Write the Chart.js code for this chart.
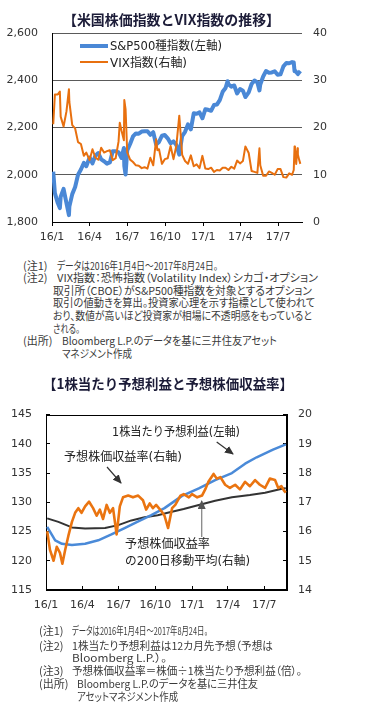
<!DOCTYPE html>
<html><head><meta charset="utf-8">
<script src="https://cdn.jsdelivr.net/npm/chart.js@4.4.1/dist/chart.umd.min.js"></script>
<style>
html,body{margin:0;padding:0;background:#fff;}
body{width:381px;height:716px;position:relative;overflow:hidden;font-family:"Noto Sans CJK JP",sans-serif;color:#333;}
.t{position:absolute;white-space:nowrap;left:0;top:0;}
.title{font-weight:bold;font-size:14px;line-height:16px;color:#1c1c38;}
.note{font-size:11px;line-height:13px;color:#3a3a3a;font-feature-settings:"palt";}
.lg{font-size:12px;line-height:14px;color:#222;font-family:"DejaVu Sans","Noto Sans CJK JP",sans-serif;}
.ann{font-size:12px;line-height:14px;color:#222;font-family:"DejaVu Sans","Noto Sans CJK JP",sans-serif;}
canvas{position:absolute;left:0;}
.sw{position:absolute;}
</style></head><body>
<canvas id="c1" width="381" height="250" style="top:0;width:381px;height:250px"></canvas>
<canvas id="c2" width="381" height="230" style="top:390px;width:381px;height:230px"></canvas>

<div class="t title" data-x0="63" data-x1="280" data-yc="19">【米国株価指数とVIX指数の推移】</div>
<div class="sw" style="left:80px;top:44px;width:28px;height:3.5px;background:#4a88d6"></div>
<div class="t lg" data-x0="110" data-x1="222" data-yc="46">S&amp;P500種指数(左軸)</div>
<div class="sw" style="left:80px;top:61.3px;width:28px;height:2px;background:#e8700f"></div>
<div class="t lg" data-x0="110" data-x1="187" data-yc="62.5">VIX指数(右軸)</div>

<div class="t note" data-x0="23" data-yc="265">(注1)</div>
<div class="t note" data-x0="57" data-x1="218" data-yc="265">データは2016年1月4日～2017年8月24日。</div>
<div class="t note" data-x0="23" data-yc="277">(注2)</div>
<div class="t note" data-x0="57" data-x1="318" data-yc="277">VIX指数：恐怖指数（Volatility Index）シカゴ・オプション</div>
<div class="t note" data-x0="53" data-x1="312" data-yc="290">取引所（CBOE）がS&amp;P500種指数を対象とするオプション</div>
<div class="t note" data-x0="53" data-x1="315" data-yc="302.7">取引の値動きを算出。投資家心理を示す指標として使われて</div>
<div class="t note" data-x0="53" data-x1="312" data-yc="315">おり、数値が高いほど投資家が相場に不透明感をもっていると</div>
<div class="t note" data-x0="53" data-x1="80" data-yc="328.3">される。</div>
<div class="t note" data-x0="23" data-yc="340.7">(出所)</div>
<div class="t note" data-x0="62" data-x1="277" data-yc="340.7">Bloomberg L.P.のデータを基に三井住友アセット</div>
<div class="t note" data-x0="62" data-x1="132" data-yc="353.3">マネジメント作成</div>

<div class="t title" data-x0="43" data-x1="293" data-yc="383">【1株当たり予想利益と予想株価収益率】</div>
<div class="t ann" data-x0="112" data-x1="240" data-yc="432">1株当たり予想利益(左軸)</div>
<div class="t ann" data-x0="64" data-x1="182" data-yc="457">予想株価収益率(右軸)</div>
<div class="t ann" data-x0="125" data-x1="210" data-yc="543.5">予想株価収益率</div>
<div class="t ann" data-x0="125" data-x1="250" data-yc="560.5">の200日移動平均(右軸)</div>

<svg style="position:absolute;left:0;top:0;pointer-events:none" width="381" height="716">
<defs>
<marker id="ah" markerUnits="userSpaceOnUse" markerWidth="9" markerHeight="8" refX="8" refY="4" orient="auto"><path d="M0,0 L9,4 L0,8z" fill="#333"/></marker>
<marker id="ah2" markerUnits="userSpaceOnUse" markerWidth="9" markerHeight="8" refX="8" refY="4" orient="auto"><path d="M0,0 L9,4 L0,8z" fill="#555"/></marker>
</defs>
<line x1="216.7" y1="442" x2="233" y2="454" stroke="#333" stroke-width="1.2" marker-end="url(#ah)"/>
<line x1="107" y1="467" x2="121" y2="483" stroke="#333" stroke-width="1.2" marker-end="url(#ah)"/>
<line x1="201.7" y1="537" x2="201.7" y2="501" stroke="#888" stroke-width="1.3" marker-end="url(#ah2)"/>
</svg>

<div class="t note" data-x0="39" data-yc="630">(注1)</div>
<div class="t note" data-x0="72" data-x1="208" data-yc="630">データは2016年1月4日～2017年8月24日。</div>
<div class="t note" data-x0="39" data-yc="645">(注2)</div>
<div class="t note" data-x0="72" data-x1="273" data-yc="645">1株当たり予想利益は12カ月先予想（予想は</div>
<div class="t note" data-x0="72" data-x1="167" data-yc="657.7">Bloomberg L.P.）。</div>
<div class="t note" data-x0="39" data-yc="670">(注3)</div>
<div class="t note" data-x0="72" data-x1="302" data-yc="670">予想株価収益率＝株価÷1株当たり予想利益（倍）。</div>
<div class="t note" data-x0="39" data-yc="683.3">(出所)</div>
<div class="t note" data-x0="77" data-x1="258" data-yc="683.3">Bloomberg L.P.のデータを基に三井住友</div>
<div class="t note" data-x0="77" data-x1="178" data-yc="696.7">アセットマネジメント作成</div>

<script>
// ---------- shared x axis ----------
const xTickDates = ['2016-01-01','2016-04-01','2016-07-01','2016-10-01','2017-01-01','2017-04-01','2017-07-01'];
const xTickLabels = ['16/1','16/4','16/7','16/10','17/1','17/4','17/7'];

// ---------- chart 1: S&P500 (left) and VIX (right) ----------
const spDates = ['2016-01-04','2016-01-08','2016-01-15','2016-01-20','2016-01-22','2016-01-29','2016-02-05','2016-02-11','2016-02-12','2016-02-19','2016-02-26','2016-03-04','2016-03-11','2016-03-18','2016-03-24','2016-04-01','2016-04-08','2016-04-15','2016-04-22','2016-04-29','2016-05-06','2016-05-13','2016-05-20','2016-05-27','2016-06-03','2016-06-10','2016-06-17','2016-06-23','2016-06-24','2016-06-27','2016-07-01','2016-07-08','2016-07-15','2016-07-22','2016-07-29','2016-08-05','2016-08-12','2016-08-19','2016-08-26','2016-09-02','2016-09-09','2016-09-16','2016-09-23','2016-09-30','2016-10-07','2016-10-14','2016-10-21','2016-10-28','2016-11-04','2016-11-11','2016-11-18','2016-11-25','2016-12-02','2016-12-09','2016-12-16','2016-12-23','2016-12-30','2017-01-06','2017-01-13','2017-01-20','2017-01-27','2017-02-03','2017-02-10','2017-02-17','2017-02-24','2017-03-01','2017-03-03','2017-03-10','2017-03-17','2017-03-24','2017-03-31','2017-04-07','2017-04-13','2017-04-21','2017-04-28','2017-05-05','2017-05-12','2017-05-17','2017-05-19','2017-05-26','2017-06-02','2017-06-09','2017-06-16','2017-06-23','2017-06-30','2017-07-07','2017-07-14','2017-07-21','2017-07-28','2017-08-04','2017-08-08','2017-08-10','2017-08-11','2017-08-18','2017-08-24'];
const spValues = [2013,1922,1880,1859,1907,1940,1880,1829,1865,1918,1948,2000,2022,2050,2036,2073,2048,2081,2092,2065,2057,2047,2052,2099,2099,2096,2071,2113,2037,2001,2103,2130,2162,2175,2174,2183,2184,2184,2169,2180,2128,2139,2165,2168,2154,2133,2141,2126,2085,2164,2182,2213,2192,2260,2258,2264,2239,2277,2275,2271,2295,2297,2316,2351,2367,2396,2383,2373,2378,2344,2363,2356,2329,2349,2384,2399,2391,2357,2382,2416,2439,2432,2433,2438,2423,2425,2459,2473,2472,2477,2475,2438,2441,2426,2439];

const vixDates = ['2016-01-04','2016-01-08','2016-01-15','2016-01-20','2016-01-22','2016-01-29','2016-02-05','2016-02-11','2016-02-12','2016-02-19','2016-02-26','2016-03-04','2016-03-11','2016-03-18','2016-03-24','2016-04-01','2016-04-08','2016-04-15','2016-04-22','2016-04-29','2016-05-06','2016-05-13','2016-05-20','2016-05-27','2016-06-03','2016-06-10','2016-06-13','2016-06-17','2016-06-23','2016-06-24','2016-06-27','2016-07-01','2016-07-08','2016-07-15','2016-07-22','2016-07-29','2016-08-05','2016-08-12','2016-08-19','2016-08-26','2016-09-02','2016-09-09','2016-09-12','2016-09-16','2016-09-23','2016-09-30','2016-10-07','2016-10-14','2016-10-21','2016-10-28','2016-11-04','2016-11-11','2016-11-18','2016-11-25','2016-12-02','2016-12-09','2016-12-16','2016-12-23','2016-12-30','2017-01-06','2017-01-13','2017-01-20','2017-01-27','2017-02-03','2017-02-10','2017-02-17','2017-02-24','2017-03-03','2017-03-10','2017-03-17','2017-03-24','2017-03-31','2017-04-07','2017-04-13','2017-04-21','2017-04-28','2017-05-05','2017-05-12','2017-05-17','2017-05-19','2017-05-26','2017-06-02','2017-06-09','2017-06-16','2017-06-23','2017-06-30','2017-07-07','2017-07-14','2017-07-21','2017-07-28','2017-08-04','2017-08-08','2017-08-10','2017-08-11','2017-08-14','2017-08-17','2017-08-18','2017-08-21','2017-08-24'];
const vixValues = [20.7,27.0,27.0,27.6,22.3,20.2,23.4,28.1,25.4,20.5,19.8,16.9,16.5,14.0,14.7,13.1,15.4,13.6,13.2,15.7,14.7,15.0,15.2,13.1,13.5,17.0,21.0,19.4,17.3,25.8,23.9,14.8,13.2,12.7,12.0,11.9,11.4,11.6,11.3,13.6,12.0,17.5,15.2,15.4,12.3,13.3,13.5,16.1,13.3,16.2,22.5,14.2,12.9,12.3,14.1,11.8,12.2,11.4,14.0,11.3,11.2,11.5,10.6,11.0,10.9,11.5,11.5,11.0,11.7,11.3,13.0,12.4,12.9,16.0,14.6,10.8,10.6,10.4,15.6,12.0,9.8,9.8,10.7,10.4,10.0,11.2,11.2,9.5,9.4,10.3,10.0,11.0,16.0,15.5,12.3,15.6,14.3,13.2,12.3];

// ---------- chart 2 (x = days since 2016-01-01) ----------
const epsDays   = [3,23,40,65,98,131,164,197,230,264,297,341,383,424,466,499,528,553,569,601];
const epsValues = [125.8,123.5,122.9,122.7,122.9,123.5,124.5,125.6,126.7,127.8,129.0,131.1,132.4,133.8,135.0,136.6,137.7,138.5,139.0,139.9];

const perDays   = [3,10,19,27,35,41,48,56,65,73,81,89,98,108,118,127,135,143,152,160,168,177,185,193,206,218,231,243,251,260,268,276,289,297,306,316,324,337,345,358,366,379,391,399,407,420,428,437,449,461,474,486,499,511,524,536,549,561,574,582,590,597,601];
const perValues = [16.01,15.37,15.0,15.48,15.27,14.9,15.37,15.85,16.33,16.64,16.80,16.64,16.86,17.02,16.80,16.54,16.75,16.43,16.91,16.64,16.80,15.90,16.86,17.17,17.23,17.17,17.23,17.07,16.75,16.96,16.80,16.91,16.70,16.54,16.12,16.80,16.91,17.23,17.28,17.17,17.28,17.17,17.23,17.44,17.70,17.97,17.81,17.86,17.60,17.49,17.60,17.44,17.70,17.55,17.76,17.60,17.49,17.81,17.76,17.49,17.55,17.39,17.33];

const maDays   = [3,31,65,98,148,181,214,247,280,305,345,383,424,466,511,549,594,601];
const maValues = [16.45,16.33,16.14,16.10,16.12,16.22,16.38,16.49,16.56,16.64,16.77,16.91,17.05,17.17,17.25,17.33,17.47,17.48];

// ---------- helpers ----------
const dayOf = s => { const [y,m,d] = s.split('-').map(Number); return Math.round((Date.UTC(y,m-1,d) - Date.UTC(2016,0,1)) / 86400000); };
const xTickDays = xTickDates.map(dayOf);
const pts = (xs, ys) => xs.map((x,i) => ({x, y: ys[i]}));
const tickLabel = v => { const i = xTickDays.indexOf(v); return i >= 0 ? xTickLabels[i] : ''; };

Chart.defaults.font.family = '"DejaVu Sans", sans-serif';
Chart.defaults.font.size = 11;
Chart.defaults.color = '#333';

const common = {
  responsive: false, animation: false, devicePixelRatio: 1,
  plugins: { legend: { display: false }, tooltip: { enabled: false } },
  elements: { point: { radius: 0 }, line: { tension: 0, borderJoinStyle: 'round' } }
};

new Chart(document.getElementById('c1'), {
  type: 'line',
  data: { datasets: [
    { label: 'VIX指数(右軸)', data: pts(vixDates.map(dayOf), vixValues), yAxisID: 'y2', borderColor: '#e8700f', borderWidth: 2 },
    { label: 'S&P500種指数(左軸)', data: pts(spDates.map(dayOf), spValues), yAxisID: 'y', borderColor: '#4a88d6', borderWidth: 4 }
  ]},
  options: Object.assign({}, common, {
    layout: { padding: { top: 33, left: 0, right: 0, bottom: 0 } },
    scales: {
      x: { type: 'linear', min: 0, max: 605,
        afterBuildTicks: s => { s.ticks = xTickDays.map(v => ({ value: v })); },
        afterFit: s => { s.height = 28; },
        ticks: { callback: v => tickLabel(v), autoSkip: false, maxRotation: 0, padding: 5 },
        grid: { drawOnChartArea: false, drawTicks: true, tickLength: 4, color: '#000' },
        border: { color: '#000' } },
      y: { position: 'left', min: 1800, max: 2600,
        afterFit: s => { s.width = 52; },
        ticks: { stepSize: 200, padding: 14 },
        grid: { color: '#5a5a5a', drawTicks: false },
        border: { color: '#000' } },
      y2: { position: 'right', min: 0, max: 40,
        afterFit: s => { s.width = 79; },
        ticks: { stepSize: 10, padding: 11 },
        grid: { display: false, drawTicks: false },
        border: { display: false } }
    }
  })
});

const framePlugin = { id: 'frame', beforeDatasetsDraw(c) {
  const a = c.chartArea, ctx = c.ctx; ctx.save(); ctx.strokeStyle = '#000'; ctx.lineWidth = 1;
  ctx.strokeRect(Math.round(a.left) + 0.5, Math.round(a.top) + 0.5, Math.round(a.right - a.left) - 1, Math.round(a.bottom - a.top) - 1);
  ctx.restore(); } };

new Chart(document.getElementById('c2'), {
  type: 'line',
  plugins: [framePlugin],
  data: { datasets: [
    { label: '予想株価収益率(右軸)', data: pts(perDays, perValues), yAxisID: 'y2', borderColor: '#ea7410', borderWidth: 2.6 },
    { label: '1株当たり予想利益(左軸)', data: pts(epsDays, epsValues), yAxisID: 'y', borderColor: '#4a8ad8', borderWidth: 2.5 },
    { label: '予想株価収益率の200日移動平均(右軸)', data: pts(maDays, maValues), yAxisID: 'y2', borderColor: '#333333', borderWidth: 2 }
  ]},
  options: Object.assign({}, common, {
    layout: { padding: { top: 11, left: 0, right: 0, bottom: 0 } },
    scales: {
      x: { type: 'linear', min: 0, max: 604,
        afterBuildTicks: s => { s.ticks = xTickDays.map(v => ({ value: v })); },
        afterFit: s => { s.height = 30; },
        ticks: { callback: v => tickLabel(v), autoSkip: false, maxRotation: 0, padding: 12.5 },
        grid: { drawOnChartArea: false, drawTicks: true, tickLength: -4, color: '#000' },
        border: { color: '#000' } },
      y: { position: 'left', min: 115, max: 145,
        afterFit: s => { s.width = 46; },
        ticks: { stepSize: 5, padding: 18 },
        grid: { drawOnChartArea: false, drawTicks: true, tickLength: -4, color: '#000' },
        border: { color: '#000' } },
      y2: { position: 'right', min: 14, max: 20,
        afterFit: s => { s.width = 94; },
        ticks: { stepSize: 1, padding: 15 },
        grid: { drawOnChartArea: false, drawTicks: true, tickLength: -4, color: '#000' },
        border: { color: '#000' } }
    }
  })
});

// ---------- text placement ----------
function placeText() {
  document.querySelectorAll('[data-x0]').forEach(el => {
    const x0 = +el.dataset.x0, yc = +el.dataset.yc;
    const r = el.getBoundingClientRect();
    el.style.left = x0 + 'px';
    el.style.top = (yc - r.height / 2) + 'px';
    if (el.dataset.x1) {
      const k = (+el.dataset.x1 - x0) / r.width;
      el.style.transformOrigin = '0 50%';
      el.style.transform = 'scaleX(' + k.toFixed(4) + ')';
    }
  });
}
if (document.fonts && document.fonts.ready) document.fonts.ready.then(placeText); else placeText();
</script>
</body></html>
